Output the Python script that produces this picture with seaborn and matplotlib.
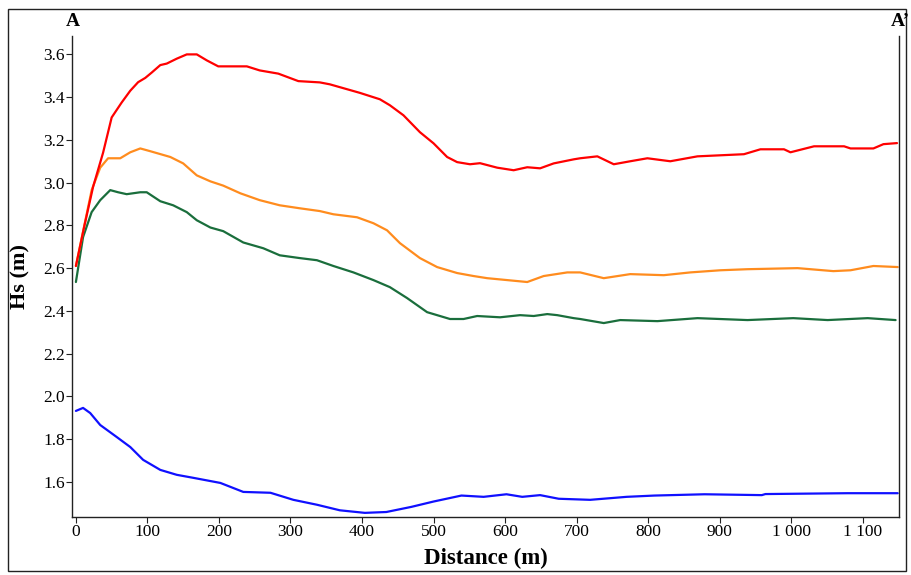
import pandas as pd
import seaborn as sns
import matplotlib.pyplot as plt
from matplotlib.patches import Rectangle

# Hs ao longo do perfil A-A'
red_x = [0, 12, 24, 38, 50, 64, 76, 87, 97, 106, 118, 127, 141, 155, 169, 183, 199, 239, 257, 283,
         311, 341, 355, 397, 425, 439, 458, 481, 500, 519, 533, 551, 565, 589, 612, 631, 649, 668,
         696, 705, 729, 752, 775, 799, 831, 869, 934, 957, 990, 999, 1032, 1074, 1083, 1115, 1129, 1148]
red_y = [2.61, 2.80, 2.98, 3.14, 3.305, 3.375, 3.43, 3.47, 3.49, 3.515, 3.55, 3.557, 3.58, 3.60, 3.60,
         3.572, 3.544, 3.544, 3.525, 3.51, 3.475, 3.469, 3.46, 3.42, 3.39, 3.362, 3.315, 3.236, 3.184,
         3.12, 3.096, 3.086, 3.091, 3.07, 3.058, 3.072, 3.067, 3.09, 3.109, 3.114, 3.123, 3.086, 3.10,
         3.114, 3.10, 3.123, 3.133, 3.156, 3.156, 3.142, 3.17, 3.17, 3.16, 3.16, 3.18, 3.185]

orange_x = [0, 22, 34, 45, 62, 76, 90, 104, 132, 150, 169, 188, 206, 230, 257, 285, 313, 341, 360, 393,
            416, 435, 453, 481, 505, 533, 556, 575, 603, 631, 654, 687, 705, 738, 775, 822, 859, 901,
            939, 1009, 1059, 1083, 1115, 1149]
orange_y = [2.61, 2.965, 3.07, 3.114, 3.114, 3.142, 3.16, 3.147, 3.12, 3.09, 3.034, 3.006, 2.986, 2.95,
            2.918, 2.894, 2.88, 2.867, 2.852, 2.838, 2.81, 2.777, 2.717, 2.647, 2.605, 2.577, 2.563,
            2.553, 2.544, 2.535, 2.563, 2.58, 2.58, 2.553, 2.572, 2.567, 2.58, 2.59, 2.595, 2.60, 2.586,
            2.59, 2.61, 2.605]

green_x = [0, 10, 22, 34, 48, 59, 71, 90, 99, 118, 136, 155, 169, 188, 206, 234, 262, 285, 313, 337,
           360, 388, 416, 439, 463, 491, 523, 542, 561, 593, 621, 640, 659, 673, 696, 705, 738, 761,
           813, 869, 939, 1003, 1051, 1107, 1146]
green_y = [2.535, 2.745, 2.862, 2.918, 2.965, 2.955, 2.946, 2.955, 2.955, 2.913, 2.894, 2.862, 2.824,
           2.79, 2.773, 2.72, 2.693, 2.66, 2.647, 2.637, 2.61, 2.58, 2.544, 2.511, 2.46, 2.394, 2.362,
           2.362, 2.376, 2.37, 2.38, 2.376, 2.385, 2.38, 2.366, 2.362, 2.343, 2.357, 2.352, 2.366,
           2.357, 2.366, 2.357, 2.366, 2.357]

blue_x = [0, 10, 20, 34, 57, 76, 94, 118, 141, 164, 202, 234, 272, 304, 337, 369, 404, 434, 469, 500,
          539, 570, 602, 624, 649, 675, 719, 770, 809, 879, 959, 964, 1079, 1149]
blue_y = [1.932, 1.946, 1.922, 1.866, 1.81, 1.763, 1.703, 1.656, 1.633, 1.619, 1.595, 1.553, 1.549,
          1.516, 1.493, 1.467, 1.455, 1.459, 1.483, 1.508, 1.536, 1.53, 1.542, 1.53, 1.538, 1.521,
          1.516, 1.53, 1.536, 1.542, 1.538, 1.543, 1.547, 1.547]

xticks = [0, 100, 200, 300, 400, 500, 600, 700, 800, 900, 1000, 1100]
xtick_labels = ["0", "100", "200", "300", "400", "500", "600", "700", "800", "900", "1 000", "1 100"]
yticks = [1.6, 1.8, 2.0, 2.2, 2.4, 2.6, 2.8, 3.0, 3.2, 3.4, 3.6]
ytick_labels = ["1.6", "1.8", "2.0", "2.2", "2.4", "2.6", "2.8", "3.0", "3.2", "3.4", "3.6"]

sns.set_style("ticks")
plt.rcParams['font.family'] = ['Liberation Serif', 'DejaVu Serif']

fig = plt.figure(figsize=(9.11, 5.75), dpi=100)
ax = fig.add_axes([0.079, 0.101, 0.908, 0.836])

series = [
    (blue_x, blue_y, "#1010FF"),
    (green_x, green_y, "#1A6E3C"),
    (orange_x, orange_y, "#FF8C1E"),
    (red_x, red_y, "#FF0000"),
]
for xs, ys, cor in series:
    tabela = pd.DataFrame({"Distance": xs, "Hs": ys})
    sns.lineplot(data=tabela, x="Distance", y="Hs", color=cor, linewidth=1.6, ax=ax)

ax.set_xlim(-5.5, 1151)
ax.set_ylim(1.436, 3.685)
ax.set_xticks(xticks)
ax.set_xticklabels(xtick_labels)
ax.set_yticks(yticks)
ax.set_yticklabels(ytick_labels)
ax.tick_params(axis="both", labelsize=12.5, length=4, width=0.8, pad=1,
               color="#222222", labelcolor="black")
ax.spines["top"].set_visible(False)
for lado in ["left", "bottom", "right"]:
    ax.spines[lado].set_linewidth(1.0)
    ax.spines[lado].set_color("#222222")

ax.set_xlabel("Distance (m)", fontsize=16.5, fontweight="bold", labelpad=6, color="black")
ax.set_ylabel("Hs (m)", fontsize=16, fontweight="bold", labelpad=9, color="black")

fig.text(0.080, 0.962, "A", fontsize=14, fontweight="bold", ha="center", va="center", color="black")
fig.text(0.988, 0.962, "A’", fontsize=14, fontweight="bold", ha="center", va="center", color="black")

# moldura externa
fig.patches.append(Rectangle((0.009, 0.007), 0.986, 0.978, transform=fig.transFigure,
                             fill=False, edgecolor="#222222", linewidth=1.0))

fig.savefig("out.png", dpi=100)
